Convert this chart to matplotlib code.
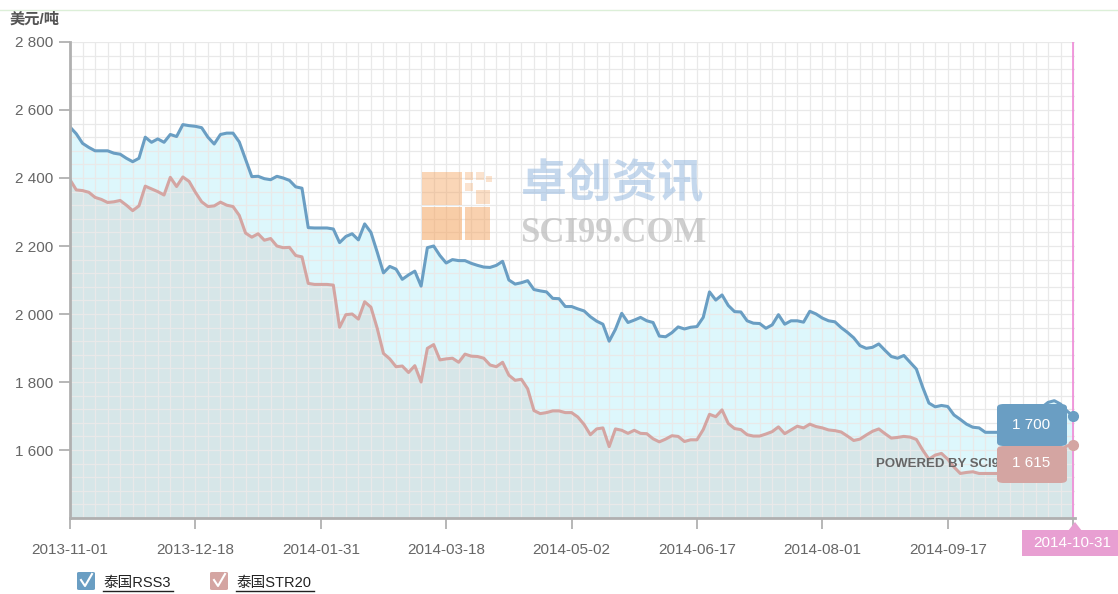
import numpy as np
import matplotlib
matplotlib.use("Agg")
import matplotlib.pyplot as plt
from matplotlib.patches import FancyBboxPatch, Rectangle, Polygon
from matplotlib.lines import Line2D

plt.rcParams['font.family'] = ['Liberation Sans', 'Noto Sans CJK SC', 'DejaVu Sans']

# ---- data (美元/吨) ----
tick_labels = ['2013-11-01', '2013-12-18', '2014-01-31', '2014-03-18', '2014-05-02',
               '2014-06-17', '2014-08-01', '2014-09-17', '2014-10-31']

rss3 = [2550, 2530, 2502, 2490, 2480, 2480, 2480, 2473, 2470, 2458,
        2448, 2458, 2520, 2505, 2515, 2505, 2528, 2522, 2557, 2554,
        2552, 2548, 2520, 2500, 2528, 2532, 2532, 2506, 2455, 2404,
        2405, 2398, 2395, 2405, 2400, 2393, 2374, 2370, 2254, 2253,
        2253, 2253, 2250, 2210, 2228, 2236, 2218, 2265, 2240, 2182,
        2121, 2140, 2132, 2102, 2115, 2126, 2082, 2195, 2200, 2172,
        2150, 2160, 2157, 2157, 2149, 2143, 2138, 2137, 2143, 2155,
        2100, 2088, 2092, 2098, 2072, 2068, 2065, 2046, 2045, 2022,
        2022, 2015, 2009, 1992, 1979, 1970, 1920, 1955, 2002, 1975,
        1982, 1990, 1980, 1975, 1935, 1933, 1945, 1962, 1956, 1961,
        1963, 1990, 2065, 2041, 2056, 2025, 2007, 2006, 1980, 1973,
        1972, 1958, 1968, 1998, 1970, 1980, 1980, 1976, 2008, 2000,
        1988, 1980, 1977, 1960, 1946, 1930, 1907, 1899, 1902, 1912,
        1893, 1875, 1870, 1878, 1858, 1838, 1785, 1738, 1727, 1731,
        1728, 1703, 1690, 1676, 1667, 1665, 1652, 1652, 1652, 1652,
        1655, 1665, 1680, 1695, 1710, 1725, 1740, 1745, 1735, 1715,
        1700]

str20 = [2395, 2365, 2363, 2358, 2343, 2337, 2328, 2330, 2334, 2320,
         2304, 2318, 2376, 2368, 2360, 2350, 2402, 2375, 2403, 2390,
         2358, 2330, 2316, 2318, 2329, 2320, 2316, 2290, 2238, 2226,
         2236, 2217, 2222, 2200, 2195, 2196, 2172, 2168, 2090, 2087,
         2087, 2087, 2085, 1961, 1998, 2000, 1985, 2036, 2020, 1958,
         1884, 1868, 1845, 1847, 1828, 1848, 1800, 1899, 1910, 1865,
         1868, 1870, 1858, 1882, 1876, 1875, 1870, 1850, 1845, 1858,
         1820, 1805, 1808, 1780, 1716, 1707, 1710, 1715, 1715, 1710,
         1710, 1697, 1675, 1645, 1662, 1665, 1610, 1662, 1658, 1649,
         1658, 1649, 1648, 1633, 1624, 1632, 1642, 1640, 1625, 1630,
         1630, 1660, 1705, 1698, 1718, 1678, 1663, 1660, 1645, 1641,
         1641, 1647, 1654, 1668, 1648, 1659, 1670, 1665, 1676, 1669,
         1665, 1659, 1657, 1653, 1641, 1628, 1632, 1644, 1655, 1662,
         1648, 1635, 1637, 1640, 1638, 1631, 1600, 1573, 1585, 1590,
         1573, 1550, 1531, 1534, 1536, 1531, 1531, 1531, 1531, 1531,
         1530, 1530, 1532, 1535, 1540, 1550, 1565, 1580, 1598, 1612,
         1615]

series_names = ['泰国RSS3', '泰国STR20']
blue = '#6a9ec3'
red = '#d4a5a2'

W, H = 1118, 594
fig = plt.figure(figsize=(W / 100, H / 100), dpi=100)


def fx(px):
    return px / W


def fy(py):
    return 1 - py / H


ax = fig.add_axes([fx(70), fy(518), fx(1075) - fx(70), fy(42) - fy(518)])

x = np.arange(len(rss3))
ax.fill_between(x, rss3, 1400, color='#ddf7fc', zorder=1, lw=0)
ax.fill_between(x, str20, 1400, color='#d6e6e8', zorder=1.2, lw=0)
ax.plot(x, rss3, color=blue, lw=2.2, zorder=4)
ax.plot(x, str20, color=red, lw=2.2, zorder=4)
ax.plot(x[-1], rss3[-1], 'o', color=blue, ms=7, zorder=5, clip_on=False)
ax.plot(x[-1], str20[-1], 'o', color=red, ms=7, zorder=5, clip_on=False)

ax.set_xlim(0, len(rss3) - 1 + 0.3)
ax.set_ylim(1400, 2800)

ax.set_xticks(np.arange(0, len(rss3), 20))
ax.set_xticklabels(tick_labels)
ax.set_xticks(np.arange(0, len(rss3) + 1, 2), minor=True)
yt = [1600, 1800, 2000, 2200, 2400, 2600, 2800]
ax.set_yticks(yt)
ax.set_yticklabels(['{:,}'.format(v).replace(',', ' ') for v in yt])
ax.set_yticks(np.arange(1400, 2801, 40), minor=True)

ax.set_axisbelow(False)
ax.grid(which='both', color='#e9e9e9', lw=0.9, zorder=2)
ax.tick_params(which='minor', length=0)
ax.tick_params(axis='x', which='major', length=8, width=1.2, color='#aaaaaa',
               labelsize=11, labelcolor='#666666', pad=10)
ax.tick_params(axis='y', which='major', length=8, width=1.2, color='#aaaaaa',
               labelsize=11, labelcolor='#666666', pad=4)
for s in ['top', 'right']:
    ax.spines[s].set_visible(False)
for s in ['left', 'bottom']:
    ax.spines[s].set_color('#b0b0b0')
    ax.spines[s].set_linewidth(2)
    ax.spines[s].set_zorder(6)
ax.xaxis.get_ticklabels()[-1].set_visible(False)

# current-date marker line
ax.axvline(x[-1], color='#f08ad8', lw=1.2, zorder=4.5)

# unit label
fig.text(fx(10), fy(19), '美元/吨', fontsize=11, fontweight='bold', color='#555555',
         va='center', ha='left')
fig.add_artist(Line2D([0, 1], [fy(10), fy(10)], color='#dcefd8', lw=1))

# watermark
for (x0, y0, w, h, a) in [(422, 172, 40, 33, 0.45), (422, 207, 40, 33, 0.55),
                          (465, 207, 25, 33, 0.5), (465, 172, 8, 8, 0.35),
                          (476, 172, 8, 8, 0.3), (465, 183, 8, 8, 0.3),
                          (476, 190, 14, 14, 0.35), (486, 176, 6, 6, 0.3)]:
    fig.add_artist(Rectangle((fx(x0), fy(y0 + h)), w / W, h / H, color='#f4a460',
                             alpha=a, lw=0, zorder=3))
fig.text(fx(613), fy(185), '卓创资讯', fontsize=33, fontweight='bold', color='#9fbfe2',
         alpha=0.6, ha='center', va='center', family=['Noto Sans CJK SC'])
fig.text(fx(613), fy(234), 'SCI99.COM', fontsize=25, fontweight='bold', color='#bbbbbb',
         alpha=0.7, ha='center', va='center', family=['Liberation Serif'])
fig.text(fx(876), fy(464), 'POWERED BY SCI99', fontsize=9.5, fontweight='bold',
         color='#666666', ha='left', va='center')

# tooltip
fig.add_artist(FancyBboxPatch((fx(997), fy(446)), 70 / W, 42 / H,
                              boxstyle='round,pad=0,rounding_size=0.006',
                              fc=blue, ec='none', zorder=10))
fig.add_artist(FancyBboxPatch((fx(997), fy(483)), 70 / W, 37 / H,
                              boxstyle='round,pad=0,rounding_size=0.006',
                              fc=red, ec='none', zorder=10))
fig.text(fx(1031), fy(425), '{:,}'.format(rss3[-1]).replace(',', ' '), color='white',
         fontsize=11, ha='center', va='center', zorder=11)
fig.text(fx(1031), fy(463), '{:,}'.format(str20[-1]).replace(',', ' '), color='white',
         fontsize=11, ha='center', va='center', zorder=11)

# date flag
fig.add_artist(Rectangle((fx(1022), fy(556)), 96 / W, 26 / H, color='#e89fd2', lw=0,
                         zorder=10))
fig.add_artist(Polygon([[fx(1068), fy(531)], [fx(1075), fy(522)], [fx(1082), fy(531)]],
                       closed=True, color='#e89fd2', lw=0, zorder=10))
fig.text(fx(1072), fy(543), tick_labels[-1], color='white', fontsize=11,
         ha='center', va='center', zorder=11)

# legend
for i, (name, c) in enumerate(zip(series_names, [blue, red])):
    bx = 77 + i * 133
    fig.add_artist(FancyBboxPatch((fx(bx), fy(590)), 18 / W, 18 / H,
                                  boxstyle='round,pad=0,rounding_size=0.002',
                                  fc=c, ec='none'))
    fig.add_artist(Line2D([fx(bx + 4), fx(bx + 8), fx(bx + 15)],
                          [fy(580), fy(586), fy(574)], color='white', lw=1.5))
    fig.text(fx(bx + 26), fy(583), name, fontsize=10.5, color='#222222',
             ha='left', va='center')
    tw = 70 if i == 0 else 78
    fig.add_artist(Line2D([fx(bx + 26), fx(bx + 26 + tw)], [fy(591), fy(591)],
                          color='#222222', lw=1))

fig.savefig('out.png', dpi=100, facecolor='white')
